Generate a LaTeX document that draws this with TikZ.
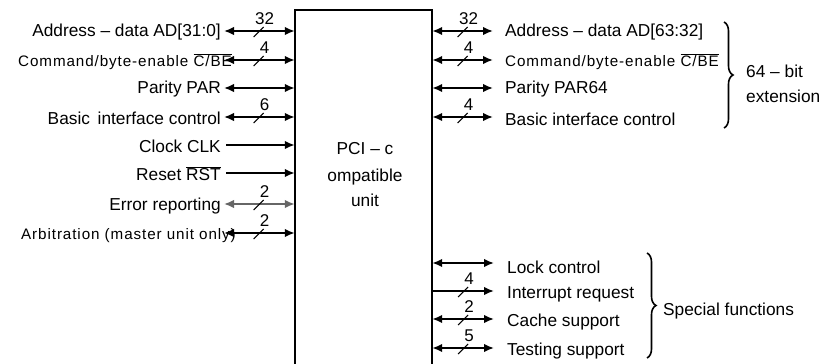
\documentclass[tikz,border=0pt]{standalone}
\usepackage{fontspec}
\setmainfont{Liberation Sans}
\newfontfamily\cmdfont[LetterSpace=6]{Liberation Sans}
\usetikzlibrary{arrows.meta,decorations.pathreplacing}
\newcommand{\ovl}[1]{$\overline{\mbox{#1}}$}
\begin{document}
\begin{tikzpicture}[x=1pt,y=-1pt,
  lbl/.style={font=\fontsize{17.3}{20}\selectfont, inner sep=0pt},
  cmd/.style={font=\fontsize{15.2}{18}\cmdfont, inner sep=0pt},
  num/.style={font=\fontsize{17}{19}\selectfont, inner sep=0pt},
  tip/.tip={Latex[length=10pt,width=8.5pt]},
  wire/.style={line width=1.8pt},
  bi/.style={wire, tip-tip},
  uni/.style={wire, -tip},
  slashmk/.style={line width=1.1pt},
  boxline/.style={line width=1.9pt},
  brc/.style={line width=1.6pt, decorate, decoration={brace, amplitude=9pt}}
]
\useasboundingbox (0,0) rectangle (839,364);

% unit (open at the bottom)
\node[minimum width=137pt, minimum height=358pt, inner sep=0pt] (unit) at (363.5,189) {};
\draw[boxline] (unit.south west) -- (unit.north west) -- (unit.north east) -- (unit.south east);
\node[lbl, align=center] (utext) at (365,175) {PCI – c\\[7pt]ompatible\\[5pt]unit};

% left side coordinates
\coordinate (l1) at (224,31);
\coordinate (l2) at (224,60);
\coordinate (l3) at (224,88);
\coordinate (l4) at (224,117);
\coordinate (l5) at (226,145);
\coordinate (l6) at (226,173);
\coordinate (l7) at (224,204);
\coordinate (l8) at (224,233);

% left labels
\node[lbl, anchor=east] (t1) at (221,32) {Address – data AD[31:0]};
\node[cmd, anchor=west] (t2) at (18,62) {Command/byte-enable \ovl{C/BE}};
\node[lbl, anchor=east] (t3) at (221,89) {Parity PAR};
\node[lbl, anchor=east] (t4) at (221,118) {Basic\, interface control};
\node[lbl, anchor=east] (t5) at (221,146) {Clock CLK};
\node[lbl, anchor=east] (t6) at (221,174) {Reset \ovl{RST}};
\node[lbl, anchor=east] (t7) at (221,206) {Error reporting};
\node[cmd, anchor=west] (t8) at (21,236) {Arbitration (master unit only)};

% left connectors
\draw[bi] (l1) -- coordinate[pos=.49] (m1) (l1 -| unit.west);
\draw[bi] (l2) -- coordinate[pos=.49] (m2) (l2 -| unit.west);
\draw[bi] (l3) -- (l3 -| unit.west);
\draw[bi] (l4) -- coordinate[pos=.49] (m4) (l4 -| unit.west);
\draw[uni] (l5) -- (l5 -| unit.west);
\draw[uni] (l6) -- (l6 -| unit.west);
\draw[bi, draw=black!60] (l7) -- coordinate[pos=.49] (m7) (l7 -| unit.west);
\draw[bi] (l8) -- coordinate[pos=.49] (m8) (l8 -| unit.west);

% right side coordinates
\coordinate (r1) at (493,31);
\coordinate (r2) at (493,60);
\coordinate (r3) at (493,88);
\coordinate (r4) at (493,117);
\coordinate (r5) at (494,263);
\coordinate (r6) at (494,291);
\coordinate (r7) at (494,319);
\coordinate (r8) at (494,348);

% right connectors
\draw[bi] (r1 -| unit.east) -- coordinate[pos=.5] (n1) (r1);
\draw[bi] (r2 -| unit.east) -- coordinate[pos=.5] (n2) (r2);
\draw[bi] (r3 -| unit.east) -- (r3);
\draw[bi] (r4 -| unit.east) -- coordinate[pos=.5] (n4) (r4);
\draw[bi] (r5 -| unit.east) -- (r5);
\draw[uni] (r6 -| unit.east) -- coordinate[pos=.5] (n6) (r6);
\draw[bi] (r7 -| unit.east) -- coordinate[pos=.5] (n7) (r7);
\draw[bi] (r8 -| unit.east) -- coordinate[pos=.5] (n8) (r8);

% right labels
\node[lbl, anchor=west] (s1) at (505,32) {Address – data AD[63:32]};
\node[cmd, anchor=west] (s2) at (505,62) {Command/byte-enable \ovl{C/BE}};
\node[lbl, anchor=west] (s3) at (505,89) {Parity PAR64};
\node[lbl, anchor=west] (s4) at (505,119) {Basic interface control};
\node[lbl, anchor=west] (s5) at (507,267) {Lock control};
\node[lbl, anchor=west] (s6) at (507,294) {Interrupt request};
\node[lbl, anchor=west] (s7) at (507,322) {Cache support};
\node[lbl, anchor=west] (s8) at (507,351) {Testing support};

% bus width marks
\foreach \m/\n in {m1/32, m2/4, m4/6, m7/2, m8/2, n1/32, n2/4, n4/4, n6/4, n7/2, n8/5} {
  \draw[slashmk] ([shift={(-5pt,-6pt)}]\m) -- ([shift={(5pt,4pt)}]\m);
  \node[num] (w\m) at ([shift={(6pt,12pt)}]\m) {\n};
}

% braces
\coordinate (b1t) at (724,22);
\coordinate (b1b) at (724,128);
\coordinate (b2t) at (647,253);
\coordinate (b2b) at (647,358);
\draw[brc] (b1t) -- (b1b);
\draw[brc] (b2t) -- (b2b);
\node[lbl, anchor=west] (g1) at (746,71) {64 – bit};
\node[lbl, anchor=west] (g2) at (746,96) {extension};
\node[lbl, anchor=west] (g3) at (663,311) {Special functions};
\end{tikzpicture}
\end{document}
